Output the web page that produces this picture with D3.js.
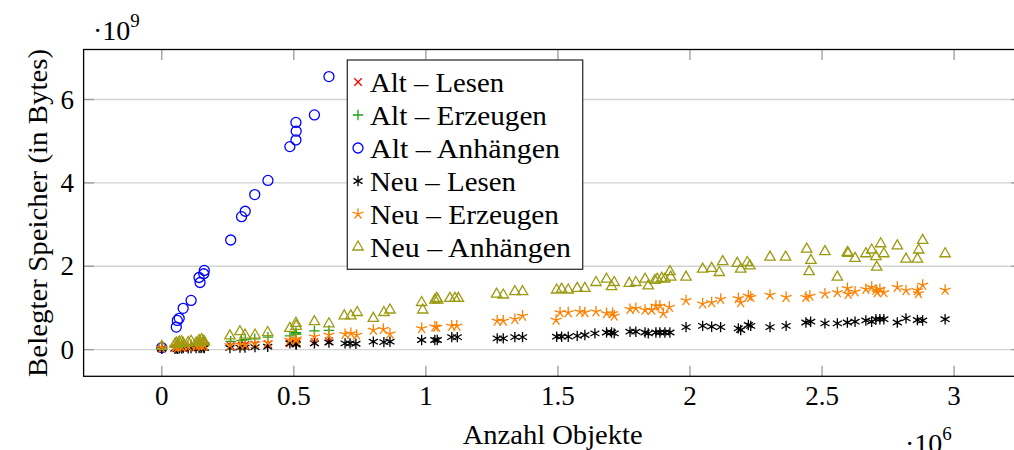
<!DOCTYPE html>
<html>
<head>
<meta charset="utf-8">
<script src="https://cdn.jsdelivr.net/npm/d3@7"></script>
<style>
  html, body { margin: 0; padding: 0; background: #fff; }
  svg { display: block; }
</style>
</head>
<body>
<svg id="chart" width="1014" height="450"></svg>
<script>
// Objektanzahl in Mio. (x), belegter Speicher in 10^9 Bytes (y)

const xTicks = [0, 0.5, 1, 1.5, 2, 2.5, 3];
const yTicks = [0, 2, 4, 6];
const xTickLabels = ["0", "0.5", "1", "1.5", "2", "2.5", "3"];
const yTickLabels = ["0", "2", "4", "6"];

const seriesNames = [
  "Alt \u2013 Lesen", "Alt \u2013 Erzeugen", "Alt \u2013 Anh\u00e4ngen",
  "Neu \u2013 Lesen", "Neu \u2013 Erzeugen", "Neu \u2013 Anh\u00e4ngen"
];

// Alte Implementierung: gemeinsame Objektanzahlen
const altObjekte = [0.0, 0.055, 0.059, 0.066, 0.081, 0.111, 0.141, 0.145, 0.159, 0.161,
  0.261, 0.302, 0.316, 0.352, 0.402, 0.485, 0.508, 0.509, 0.508, 0.578, 0.633];
const altLesen = [0.02, 0.03, 0.03, 0.04, 0.04, 0.05, 0.06, 0.06, 0.07, 0.07,
  0.09, 0.10, 0.11, 0.12, 0.13, 0.15, 0.16, 0.16, 0.17, 0.18, 0.20];
const altErzeugen = [0.04, 0.07, 0.08, 0.08, 0.10, 0.12, 0.14, 0.14, 0.16, 0.17,
  0.20, 0.22, 0.24, 0.26, 0.30, 0.33, 0.38, 0.37, 0.41, 0.45, 0.46];
const altAnhaengen = [0.05, 0.54, 0.70, 0.75, 0.99, 1.18, 1.73, 1.61, 1.82, 1.90,
  2.63, 3.19, 3.32, 3.72, 4.06, 4.87, 5.03, 5.24, 5.45, 5.63, 6.55];

// Neue Implementierung: [Objekte, Speicher]
const neuLesen = [
  [0.0,0.02],[0.05,0.02],[0.055,0.03],[0.06,0.02],[0.066,0.03],[0.075,0.03],[0.081,0.04],[0.1,0.03],
  [0.111,0.04],[0.13,0.04],[0.141,0.05],[0.145,0.04],[0.151,0.05],[0.159,0.05],[0.161,0.04],
  [0.258,0.04],[0.296,0.05],[0.315,0.05],[0.353,0.06],[0.401,0.07],[0.485,0.15],[0.508,0.14],
  [0.509,0.12],[0.578,0.15],[0.633,0.17],[0.694,0.15],[0.713,0.15],[0.735,0.14],[0.801,0.19],
  [0.841,0.18],[0.864,0.19],[0.984,0.23],[1.034,0.23],[1.043,0.23],[1.098,0.30],[1.119,0.30],
  [1.270,0.27],[1.293,0.27],[1.337,0.30],[1.366,0.30],[1.495,0.31],[1.514,0.31],[1.539,0.31],
  [1.573,0.33],[1.602,0.35],[1.640,0.39],[1.684,0.41],[1.703,0.41],[1.713,0.39],[1.773,0.43],
  [1.795,0.43],[1.830,0.41],[1.842,0.39],[1.871,0.41],[1.886,0.41],[1.905,0.41],[1.924,0.41],
  [1.985,0.54],[2.048,0.57],[2.082,0.55],[2.116,0.54],[2.183,0.51],[2.192,0.47],[2.221,0.59],
  [2.230,0.57],[2.303,0.54],[2.364,0.57],[2.439,0.65],[2.457,0.67],[2.511,0.63],[2.558,0.63],
  [2.596,0.65],[2.625,0.67],[2.666,0.70],[2.688,0.67],[2.704,0.73],[2.719,0.73],[2.734,0.73],
  [2.785,0.65],[2.818,0.75],[2.861,0.71],[2.881,0.70],[2.966,0.73]
];
const neuErzeugen = [
  [0.0,0.04],[0.05,0.06],[0.055,0.08],[0.06,0.05],[0.066,0.09],[0.075,0.07],[0.081,0.10],[0.1,0.08],
  [0.111,0.10],[0.13,0.09],[0.141,0.11],[0.145,0.12],[0.151,0.10],[0.159,0.12],[0.161,0.10],
  [0.258,0.10],[0.296,0.12],[0.315,0.11],[0.353,0.15],[0.401,0.17],[0.485,0.23],[0.508,0.22],
  [0.509,0.26],[0.578,0.31],[0.633,0.35],[0.694,0.37],[0.716,0.39],[0.738,0.35],[0.801,0.47],
  [0.839,0.49],[0.864,0.38],[0.984,0.51],[1.034,0.55],[1.041,0.54],[1.098,0.57],[1.117,0.57],
  [1.270,0.69],[1.293,0.69],[1.337,0.73],[1.366,0.81],[1.493,0.71],[1.508,0.89],[1.539,0.89],
  [1.583,0.91],[1.602,0.89],[1.644,0.91],[1.684,0.87],[1.707,0.87],[1.713,0.81],[1.773,0.97],
  [1.795,0.99],[1.830,0.95],[1.855,0.95],[1.871,1.05],[1.886,1.05],[1.899,0.87],[1.922,1.02],
  [1.985,1.18],[2.048,1.10],[2.082,1.13],[2.116,1.21],[2.183,1.23],[2.192,1.13],[2.221,1.29],
  [2.230,1.26],[2.303,1.31],[2.364,1.26],[2.439,1.26],[2.454,1.29],[2.511,1.34],[2.558,1.37],
  [2.596,1.47],[2.599,1.33],[2.625,1.39],[2.666,1.45],[2.688,1.50],[2.704,1.43],[2.709,1.37],
  [2.719,1.45],[2.734,1.37],[2.785,1.50],[2.818,1.42],[2.861,1.42],[2.865,1.35],[2.881,1.55],
  [2.966,1.43]
];
const neuAnhaengen = [
  [0.0,0.08],[0.05,0.13],[0.055,0.16],[0.06,0.12],[0.066,0.18],[0.075,0.19],[0.081,0.15],[0.1,0.17],
  [0.111,0.20],[0.13,0.16],[0.141,0.22],[0.145,0.19],[0.151,0.24],[0.159,0.20],[0.161,0.18],
  [0.258,0.33],[0.296,0.43],[0.315,0.35],[0.353,0.35],[0.401,0.41],[0.485,0.51],[0.508,0.63],
  [0.509,0.56],[0.578,0.67],[0.633,0.62],[0.691,0.81],[0.716,0.81],[0.740,0.89],[0.801,0.75],
  [0.841,0.89],[0.864,0.95],[0.984,1.13],[0.988,0.95],[1.034,1.19],[1.041,1.23],[1.045,1.19],
  [1.091,1.23],[1.110,1.23],[1.123,1.23],[1.268,1.33],[1.293,1.31],[1.337,1.39],[1.366,1.39],
  [1.495,1.43],[1.514,1.45],[1.539,1.43],[1.573,1.47],[1.602,1.47],[1.644,1.61],[1.684,1.69],
  [1.703,1.51],[1.713,1.61],[1.770,1.59],[1.795,1.61],[1.830,1.69],[1.842,1.53],[1.867,1.66],
  [1.876,1.69],[1.893,1.71],[1.905,1.69],[1.924,1.87],[1.927,1.74],[1.985,1.74],[2.048,1.93],
  [2.082,1.95],[2.111,1.85],[2.124,2.11],[2.179,2.07],[2.192,1.93],[2.217,2.09],[2.227,2.01],
  [2.303,2.22],[2.362,2.22],[2.442,2.41],[2.458,2.14],[2.451,1.87],[2.511,2.35],[2.558,1.74],
  [2.596,2.33],[2.599,2.31],[2.625,2.19],[2.666,2.30],[2.688,2.39],[2.704,2.23],[2.707,1.98],
  [2.722,2.54],[2.734,2.30],[2.785,2.49],[2.818,2.17],[2.861,2.17],[2.866,2.39],[2.881,2.62],
  [2.966,2.30]
];

// ---------------------------------------------------------------------------
const FONT = "'Liberation Serif', 'Times New Roman', serif";
const W = 1014, H = 450;

const svg = d3.select("#chart");
svg.append("rect").attr("width", W).attr("height", H).attr("fill", "#fff");

const x = d3.scaleLinear().domain([-0.296, 3.256]).range([83.6, 1021.7]);
const y = d3.scaleLinear().domain([-0.64, 7.2]).range([376.3, 49.5]);
const [x0, x1] = x.range();
const [yb, yt] = y.range();

// horizontal grid
svg.append("g").selectAll("line").data(yTicks).join("line")
  .attr("x1", x0).attr("x2", x1)
  .attr("y1", d => y(d)).attr("y2", d => y(d))
  .attr("stroke", "#d3d3d3").attr("stroke-width", 1.4);

// ticks (inside, mirrored on both sides)
const tickLen = 10.5;
const tk = svg.append("g").attr("stroke", "#9a9a9a").attr("stroke-width", 1.3);
xTicks.forEach(t => {
  tk.append("line").attr("x1", x(t)).attr("x2", x(t)).attr("y1", yb).attr("y2", yb - tickLen);
  tk.append("line").attr("x1", x(t)).attr("x2", x(t)).attr("y1", yt).attr("y2", yt + tickLen);
});
yTicks.forEach(t => {
  tk.append("line").attr("x1", x0).attr("x2", x0 + tickLen).attr("y1", y(t)).attr("y2", y(t));
  tk.append("line").attr("x1", x1).attr("x2", x1 - tickLen).attr("y1", y(t)).attr("y2", y(t));
});

// tick labels
svg.append("g").selectAll("text").data(xTicks).join("text")
  .attr("x", d => x(d)).attr("y", 405)
  .attr("text-anchor", "middle")
  .attr("font-family", FONT).attr("font-size", 27)
  .text((d, i) => xTickLabels[i]);
svg.append("g").selectAll("text").data(yTicks).join("text")
  .attr("x", 74).attr("y", d => y(d) + 9)
  .attr("text-anchor", "end")
  .attr("font-family", FONT).attr("font-size", 27)
  .text((d, i) => yTickLabels[i]);

// marker shapes
function markPath(kind, r) {
  const p = d3.path();
  if (kind === "times") {
    const a = r * 0.72;
    p.moveTo(-a, -a); p.lineTo(a, a); p.moveTo(-a, a); p.lineTo(a, -a);
  } else if (kind === "plus") {
    p.moveTo(-r, 0); p.lineTo(r, 0); p.moveTo(0, -r); p.lineTo(0, r);
  } else if (kind === "circle") {
    p.moveTo(r, 0); p.arc(0, 0, r, 0, 2 * Math.PI);
  } else if (kind === "asterisk") {
    [90, 30, 150].forEach(deg => {
      const t = deg * Math.PI / 180;
      p.moveTo(r * Math.cos(t), -r * Math.sin(t));
      p.lineTo(-r * Math.cos(t), r * Math.sin(t));
    });
  } else if (kind === "star") {
    for (let k = 0; k < 5; k++) {
      const t = (90 + k * 72) * Math.PI / 180;
      p.moveTo(0, 0); p.lineTo(r * Math.cos(t), -r * Math.sin(t));
    }
  } else if (kind === "triangle") {
    const pts = [90, 210, 330].map(d => [r * Math.cos(d * Math.PI / 180), -r * Math.sin(d * Math.PI / 180)]);
    p.moveTo(pts[0][0], pts[0][1]); p.lineTo(pts[1][0], pts[1][1]); p.lineTo(pts[2][0], pts[2][1]); p.closePath();
  }
  return p.toString();
}

const styles = [
  { kind: "times", r: 5.2, color: "#ff0000" },
  { kind: "plus", r: 5.2, color: "#1aa31a" },
  { kind: "circle", r: 5.0, color: "#0000ff" },
  { kind: "asterisk", r: 5.2, color: "#000000" },
  { kind: "star", r: 5.8, color: "#ff8000" },
  { kind: "triangle", r: 6.0, color: "#9c9a10" }
];

const seriesData = [
  altObjekte.map((v, i) => [v, altLesen[i]]),
  altObjekte.map((v, i) => [v, altErzeugen[i]]),
  altObjekte.map((v, i) => [v, altAnhaengen[i]]),
  neuLesen,
  neuErzeugen,
  neuAnhaengen
];

const plot = svg.append("g");
seriesData.forEach((data, s) => {
  const st = styles[s];
  plot.append("g").selectAll("path").data(data).join("path")
    .attr("transform", d => `translate(${x(d[0])},${y(d[1])})`)
    .attr("d", markPath(st.kind, st.r))
    .attr("fill", "none")
    .attr("stroke", st.color)
    .attr("stroke-width", 1.3);
});

// frame
svg.append("rect")
  .attr("x", x0).attr("y", yt).attr("width", x1 - x0).attr("height", yb - yt)
  .attr("fill", "none").attr("stroke", "#000").attr("stroke-width", 1.3);

// legend
const legendWidths = [134, 177, 190, 146, 189, 201];
const lg = svg.append("g");
lg.append("rect").attr("x", 347.3).attr("y", 60).attr("width", 235.4).attr("height", 209.3)
  .attr("fill", "#fff").attr("stroke", "#333").attr("stroke-width", 1.3);
seriesNames.forEach((name, i) => {
  const cy = 82 + i * 33;
  const st = styles[i];
  lg.append("path")
    .attr("transform", `translate(358,${cy})`)
    .attr("d", markPath(st.kind, st.r))
    .attr("fill", "none").attr("stroke", st.color).attr("stroke-width", 1.3);
  lg.append("text")
    .attr("x", 370).attr("y", cy + 9.5)
    .attr("font-family", FONT).attr("font-size", 27.5)
    .attr("textLength", legendWidths[i]).attr("lengthAdjust", "spacingAndGlyphs")
    .text(name);
});

// axis titles, centred on the full axis extent
svg.append("text")
  .attr("transform", `translate(47,${(yt + yb) / 2}) rotate(-90)`)
  .attr("text-anchor", "middle")
  .attr("font-family", FONT).attr("font-size", 27.5)
  .attr("textLength", 328).attr("lengthAdjust", "spacingAndGlyphs")
  .text("Belegter Speicher (in Bytes)");
svg.append("text")
  .attr("x", (x0 + x1) / 2).attr("y", 444)
  .attr("text-anchor", "middle")
  .attr("font-family", FONT).attr("font-size", 27.5)
  .attr("textLength", 180).attr("lengthAdjust", "spacingAndGlyphs")
  .text("Anzahl Objekte");

// scale factors
function scaleLabel(xp, yp, exp) {
  const t = svg.append("text").attr("x", xp).attr("y", yp)
    .attr("font-family", FONT).attr("font-size", 28);
  t.append("tspan").text("\u00b710");
  t.append("tspan").attr("dy", -13).attr("font-size", 19).text(exp);
}
scaleLabel(93, 40, "9");
scaleLabel(905, 453, "6");
</script>
</body>
</html>
